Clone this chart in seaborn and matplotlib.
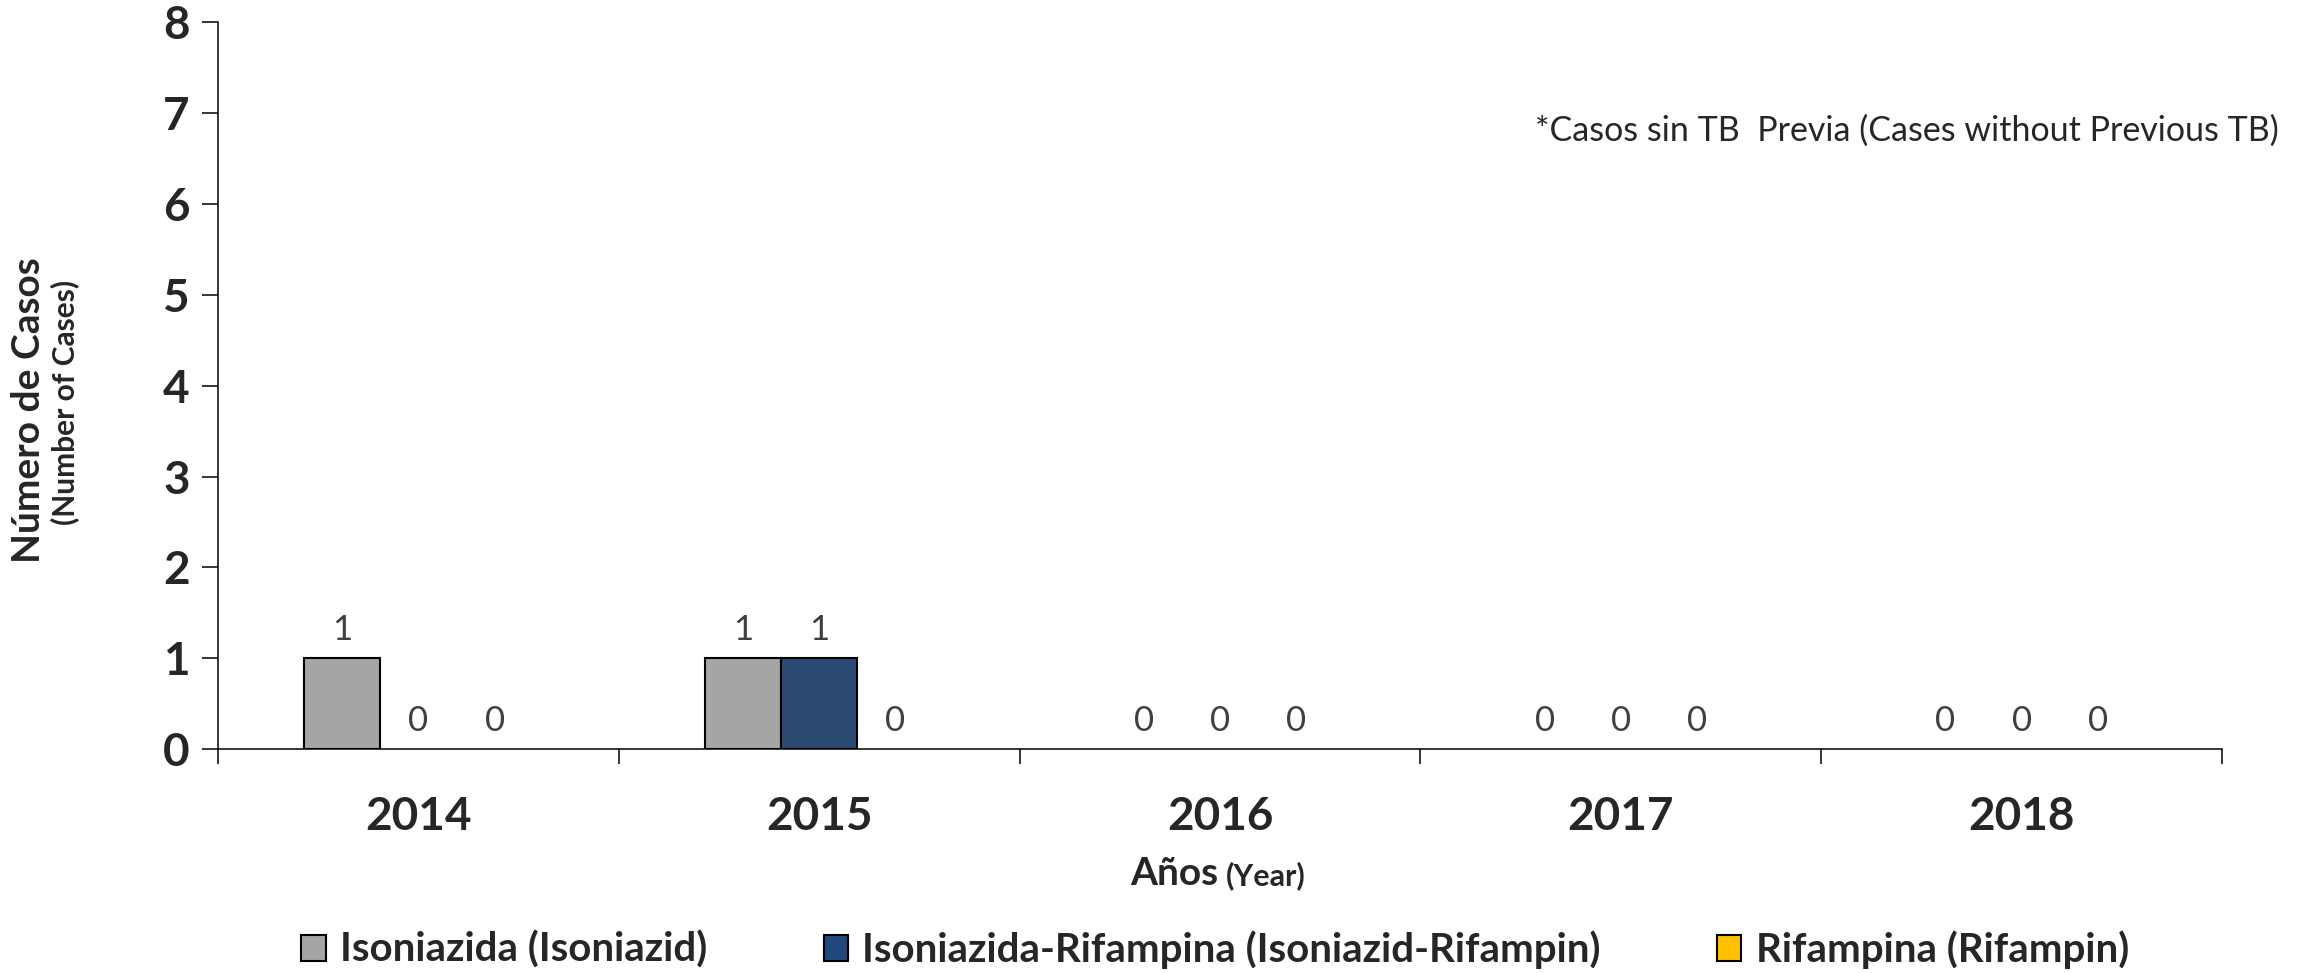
import numpy as np
import pandas as pd
import seaborn as sns
import matplotlib.pyplot as plt
from matplotlib.patches import Patch

# datos
years = ["2014", "2015", "2016", "2017", "2018"]
isoniazida = [1, 1, 0, 0, 0]
iso_rif = [0, 1, 0, 0, 0]
rifampina = [0, 0, 0, 0, 0]
series_names = ["Isoniazida (Isoniazid)",
                "Isoniazida-Rifampina (Isoniazid-Rifampin)",
                "Rifampina (Rifampin)"]
colors = ["#A5A5A5", "#1F497D", "#FFC000"]

df = pd.DataFrame({
    "year": years * 3,
    "casos": isoniazida + iso_rif + rifampina,
    "serie": [s for s in series_names for _ in years],
})

sns.set_theme(style="ticks")
plt.rcParams["font.family"] = ["Lato", "DejaVu Sans"]

fig = plt.figure(figsize=(23.1, 9.73), dpi=100)
ax = fig.add_axes([0.0944, 0.2302, 0.8675, 0.7468])

sns.barplot(data=df, x="year", y="casos", hue="serie", palette=colors,
            width=0.57, edgecolor="black", linewidth=1.5, ax=ax, legend=False)

# sin borde en barras de altura cero
for p in ax.patches:
    if p.get_height() == 0:
        p.set_linewidth(0)

# etiquetas de valor
for cont in ax.containers:
    ax.bar_label(cont, fmt="%g", fontsize=25, color="#404040", padding=9)

ax.set_ylim(0, 8)
ax.set_xlim(-0.5, 4.5)
ax.set_yticks(range(0, 9))
ax.tick_params(axis="y", length=11.5, width=1.1, color="black", pad=9,
               labelsize=33)
ax.tick_params(axis="x", which="major", length=0, pad=34, labelsize=33)
ax.set_xticks(np.arange(-0.5, 5, 1), minor=True)
ax.tick_params(axis="x", which="minor", length=11, width=1.1, color="black")
for lab in ax.get_xticklabels() + ax.get_yticklabels():
    lab.set_fontweight("bold")
ax.set_xlabel("")
ax.set_ylabel("")
for s in ["top", "right"]:
    ax.spines[s].set_visible(False)
for s in ["left", "bottom"]:
    ax.spines[s].set_color("black")
    ax.spines[s].set_linewidth(1.1)

# titulos de ejes
fig.text(0.0125, 0.578, "Número de Casos", rotation=90, ha="center", va="center",
         fontsize=28, fontweight="bold")
fig.text(0.028, 0.586, "(Number of Cases)", rotation=90, ha="center", va="center",
         fontsize=21.5, fontweight="bold")
fig.text(0.5273, 0.0904, "Años", ha="right", va="baseline", fontsize=28,
         fontweight="bold")
fig.text(0.5307, 0.0904, "(Year)", ha="left", va="baseline", fontsize=22,
         fontweight="bold")

fig.text(0.9866, 0.866, "*Casos sin TB  Previa (Cases without Previous TB)",
         ha="right", va="center", fontsize=24.5)

handles = [Patch(facecolor=c, edgecolor="black", linewidth=1.5) for c in colors]
fig.legend(handles, series_names, loc="center", bbox_to_anchor=(0.526, 0.024),
           ncol=3, frameon=False, handlelength=0.6, handleheight=0.6,
           handletextpad=0.35, columnspacing=2.9,
           prop={"size": 29, "weight": "bold"})

fig.savefig("out.png", dpi=100)
